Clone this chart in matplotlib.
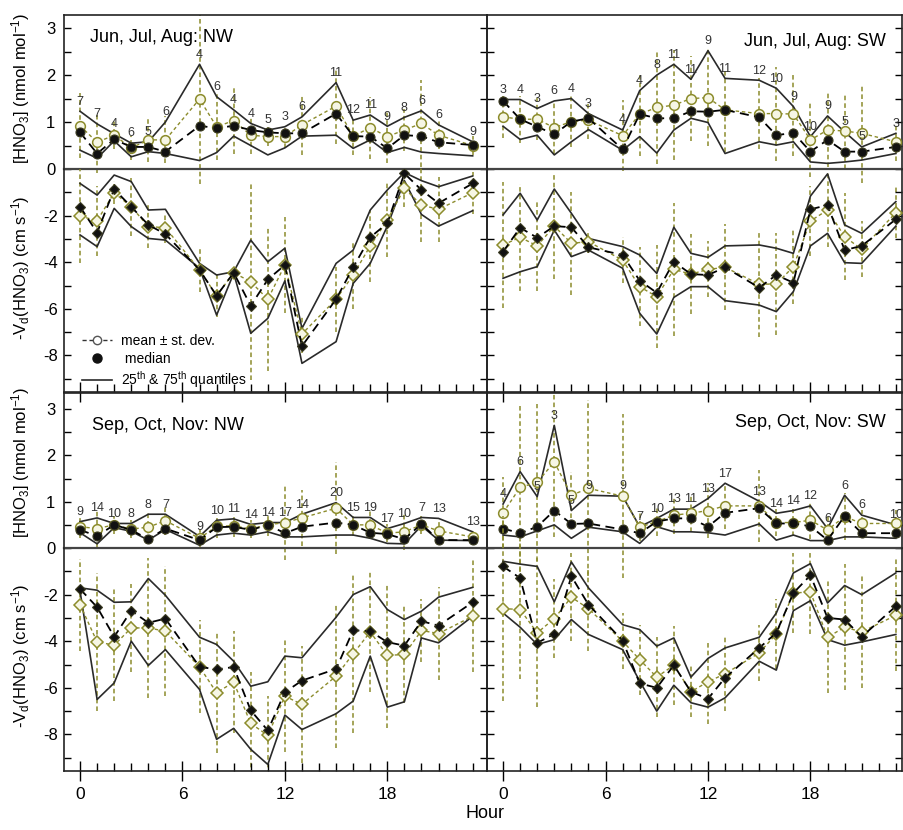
import numpy as np
import matplotlib
matplotlib.use('Agg')
import matplotlib.pyplot as plt
from matplotlib.lines import Line2D
from matplotlib.transforms import Bbox, TransformedBbox

plt.rcParams['font.family'] = ['Liberation Sans', 'DejaVu Sans']
plt.rcParams['mathtext.fontset'] = 'custom'
plt.rcParams['mathtext.rm'] = 'Liberation Sans'
plt.rcParams['mathtext.it'] = 'Liberation Sans:italic'
plt.rcParams['axes.unicode_minus'] = False

# hours with data (6, 14 and 22 missing)
hours = [0, 1, 2, 3, 4, 5, 7, 8, 9, 10, 11, 12, 13, 15, 16, 17, 18, 19, 20, 21, 23]

# Jun, Jul, Aug: NW
jja_nw_n = [7, 7, 4, 6, 5, 6, 4, 6, 4, 4, 5, 3, 6, 11, 12, 11, 9, 8, 6, 6, 9]
jja_nw_c_mean = [0.92, 0.57, 0.72, 0.45, 0.62, 0.62, 1.49, 0.90, 1.03, 0.72, 0.69, 0.69, 0.94, 1.34, 0.70, 0.88, 0.69, 0.83, 0.97, 0.72, 0.50]
jja_nw_c_sd = [0.69, 0.65, 0.30, 0.25, 0.48, 0.50, 1.80, 0.70, 0.70, 0.40, 0.20, 0.25, 0.65, 0.80, 0.40, 0.66, 0.57, 0.45, 0.92, 0.30, 0.20]
jja_nw_c_med = [0.78, 0.33, 0.63, 0.47, 0.47, 0.37, 0.92, 0.87, 0.92, 0.83, 0.78, 0.76, 0.76, 1.18, 0.70, 0.69, 0.44, 0.72, 0.70, 0.57, 0.51]
jja_nw_c_q75 = [1.23, 0.96, 0.75, 0.55, 0.58, 1.00, 2.23, 1.54, 1.26, 0.97, 0.83, 0.90, 1.11, 1.84, 1.04, 1.15, 0.91, 1.10, 1.24, 0.94, 0.58]
jja_nw_c_q25 = [0.40, 0.23, 0.60, 0.26, 0.37, 0.33, 0.18, 0.35, 0.70, 0.50, 0.30, 0.45, 0.70, 0.72, 0.44, 0.62, 0.35, 0.46, 0.36, 0.33, 0.28]
jja_nw_v_mean = [-2.02, -2.22, -1.02, -1.62, -2.47, -2.52, -4.33, -5.44, -4.45, -4.84, -5.59, -4.12, -7.08, -5.59, -4.55, -3.30, -2.19, -0.83, -1.55, -1.73, -1.02]
jja_nw_v_sd = [2.0, 1.5, 0.5, 1.25, 0.93, 0.65, 0.93, 0.93, 0.1, 4.2, 3.1, 2.05, 0.8, 1.4, 1.45, 1.55, 1.6, 0.8, 1.6, 1.4, 0.9]
jja_nw_v_med = [-1.62, -2.73, -0.87, -1.62, -2.40, -2.79, -4.33, -5.44, -4.45, -5.87, -4.74, -4.12, -7.60, -5.59, -4.22, -2.93, -2.33, -0.19, -0.90, -1.47, -0.62]
jja_nw_v_qa = [-0.62, -1.12, -0.26, -0.54, -1.76, -1.73, -4.05, -4.55, -4.41, -3.05, -3.98, -3.40, -6.84, -4.05, -3.48, -1.76, -0.90, -0.15, -0.50, -0.76, -0.30]
jja_nw_v_qb = [-2.83, -3.33, -1.69, -2.47, -2.98, -3.05, -4.26, -6.27, -4.48, -7.05, -6.41, -4.80, -8.34, -7.41, -4.91, -4.05, -2.45, -0.50, -1.95, -2.45, -1.79]

# Jun, Jul, Aug: SW
jja_sw_n = [3, 4, 3, 6, 4, 3, 4, 4, 8, 11, 11, 9, 11, 12, 10, 9, 10, 9, 5, 5, 3]
jja_sw_c_mean = [1.11, 1.06, 1.06, 0.88, 1.01, 1.04, 0.71, 1.17, 1.31, 1.36, 1.50, 1.52, 1.26, 1.18, 1.18, 1.17, 0.62, 0.83, 0.81, 0.76, 0.58]
jja_sw_c_sd = [0.45, 0.50, 0.45, 0.55, 0.55, 0.40, 0.76, 0.90, 1.20, 1.17, 0.90, 1.03, 0.90, 0.75, 1.00, 0.90, 0.80, 0.78, 0.80, 1.06, 0.40]
jja_sw_c_med = [1.45, 1.06, 0.90, 0.74, 1.01, 1.08, 0.42, 1.17, 1.08, 1.08, 1.23, 1.22, 1.26, 1.10, 0.72, 0.77, 0.37, 0.62, 0.37, 0.37, 0.47]
jja_sw_c_q75 = [1.48, 1.48, 1.29, 1.45, 1.50, 1.18, 0.83, 1.67, 2.00, 2.23, 1.91, 2.52, 1.93, 1.89, 1.72, 1.33, 0.69, 1.13, 0.79, 0.47, 0.76]
jja_sw_c_q25 = [0.91, 0.63, 0.72, 0.30, 0.58, 0.84, 0.40, 0.69, 0.34, 0.83, 1.08, 0.99, 0.33, 0.58, 0.51, 0.58, 0.15, 0.12, 0.15, 0.19, 0.33]
jja_sw_v_mean = [-3.26, -2.93, -3.30, -2.45, -3.19, -3.12, -3.91, -5.05, -5.48, -4.31, -4.51, -4.31, -4.22, -4.94, -4.94, -4.19, -2.23, -1.76, -2.90, -3.45, -1.87]
jja_sw_v_sd = [2.7, 2.3, 1.95, 2.25, 2.2, 0.5, 1.0, 1.7, 2.2, 2.85, 1.7, 1.2, 1.85, 2.25, 2.2, 1.6, 1.5, 1.6, 1.85, 1.2, 1.1]
jja_sw_v_med = [-3.55, -2.52, -2.95, -2.45, -2.50, -3.36, -3.69, -4.79, -5.31, -3.98, -4.51, -4.55, -4.22, -5.09, -4.55, -4.88, -1.73, -1.55, -3.48, -3.30, -2.16]
jja_sw_v_qa = [-1.97, -1.04, -2.19, -0.86, -1.90, -2.98, -3.33, -3.69, -4.48, -2.50, -3.62, -3.79, -3.30, -3.26, -3.40, -3.62, -1.16, -0.21, -2.40, -2.76, -1.40]
jja_sw_v_qb = [-4.69, -4.41, -4.19, -2.62, -3.76, -3.48, -4.26, -6.19, -7.08, -5.51, -5.05, -5.05, -5.65, -5.84, -6.12, -5.26, -3.30, -2.76, -4.02, -4.05, -2.45]

# Sep, Oct, Nov: NW
son_nw_n = [9, 14, 10, 8, 8, 7, 9, 10, 11, 14, 14, 17, 14, 20, 15, 19, 17, 10, 7, 13, 13]
son_nw_c_mean = [0.46, 0.42, 0.50, 0.41, 0.45, 0.59, 0.21, 0.47, 0.48, 0.41, 0.50, 0.55, 0.65, 0.86, 0.50, 0.50, 0.32, 0.35, 0.50, 0.37, 0.24]
son_nw_c_sd = [0.25, 0.40, 0.20, 0.20, 0.30, 0.30, 0.20, 0.25, 0.25, 0.20, 0.25, 0.80, 0.60, 1.00, 0.25, 0.30, 0.20, 0.40, 0.20, 0.25, 0.15]
son_nw_c_med = [0.39, 0.26, 0.50, 0.39, 0.19, 0.42, 0.17, 0.45, 0.46, 0.39, 0.50, 0.32, 0.46, 0.55, 0.50, 0.33, 0.30, 0.19, 0.52, 0.17, 0.17]
son_nw_c_q75 = [0.57, 0.65, 0.53, 0.53, 0.73, 0.73, 0.25, 0.60, 0.63, 0.51, 0.55, 0.55, 0.73, 0.98, 0.66, 0.66, 0.42, 0.53, 0.66, 0.64, 0.35]
son_nw_c_q25 = [0.33, 0.09, 0.44, 0.36, 0.17, 0.40, 0.06, 0.28, 0.32, 0.28, 0.35, 0.24, 0.24, 0.28, 0.28, 0.21, 0.10, 0.09, 0.48, 0.17, 0.16]
son_nw_v_mean = [-2.43, -4.03, -4.17, -3.43, -3.43, -3.57, -5.10, -6.21, -5.76, -7.53, -8.04, -6.36, -6.71, -5.50, -4.54, -3.60, -4.61, -4.57, -3.54, -3.67, -2.93]
son_nw_v_sd = [1.97, 2.96, 2.4, 1.9, 3.0, 2.8, 2.0, 2.6, 2.2, 2.2, 1.7, 2.4, 2.5, 3.1, 3.4, 2.6, 3.1, 2.1, 1.35, 2.0, 2.4]
son_nw_v_med = [-1.76, -2.54, -3.81, -2.69, -3.21, -3.03, -5.10, -5.21, -5.11, -6.97, -7.83, -6.19, -5.69, -5.19, -3.53, -3.57, -4.04, -4.19, -3.14, -3.33, -2.33]
son_nw_v_qa = [-1.71, -1.81, -2.33, -2.31, -1.31, -2.03, -3.83, -4.14, -4.86, -5.93, -5.74, -4.64, -4.71, -2.97, -2.00, -1.66, -2.64, -3.07, -2.71, -2.11, -1.69]
son_nw_v_qb = [-1.85, -6.50, -5.79, -4.00, -5.04, -4.36, -6.07, -8.21, -7.74, -8.64, -9.29, -7.17, -7.79, -7.11, -6.57, -4.64, -6.83, -6.60, -3.86, -4.07, -2.93]

# Sep, Oct, Nov: SW
son_sw_n = [4, 6, 5, 3, 5, 9, 9, 7, 10, 13, 11, 13, 17, 13, 14, 14, 12, 6, 6, 6, 10]
son_sw_c_mean = [0.76, 1.31, 1.42, 1.86, 1.14, 1.29, 1.12, 0.45, 0.57, 0.71, 0.75, 0.81, 0.91, 0.91, 0.55, 0.55, 0.60, 0.39, 0.68, 0.53, 0.53]
son_sw_c_sd = [0.77, 1.80, 1.70, 1.62, 0.50, 1.90, 1.77, 0.30, 0.30, 0.40, 0.40, 0.60, 0.50, 0.77, 0.30, 0.30, 0.40, 0.30, 0.50, 0.30, 0.30]
son_sw_c_med = [0.42, 0.32, 0.46, 0.81, 0.52, 0.53, 0.40, 0.32, 0.57, 0.64, 0.64, 0.46, 0.76, 0.86, 0.53, 0.53, 0.47, 0.17, 0.69, 0.32, 0.32]
son_sw_c_q75 = [0.95, 1.65, 1.11, 2.65, 0.81, 1.14, 1.12, 0.46, 0.64, 0.84, 0.84, 1.07, 1.40, 1.01, 0.75, 0.81, 0.91, 0.42, 1.14, 0.71, 0.50]
son_sw_c_q25 = [0.28, 0.24, 0.37, 0.50, 0.21, 0.45, 0.35, 0.10, 0.46, 0.35, 0.35, 0.33, 0.28, 0.52, 0.17, 0.28, 0.16, 0.16, 0.24, 0.24, 0.21]
son_sw_v_mean = [-2.60, -2.64, -3.64, -3.03, -2.11, -2.60, -4.00, -4.79, -5.54, -5.03, -6.17, -5.74, -5.40, -4.50, -3.69, -1.93, -1.89, -3.83, -3.40, -3.60, -2.89]
son_sw_v_sd = [3.97, 3.0, 3.2, 1.7, 1.9, 1.8, 1.2, 1.5, 1.7, 1.7, 1.1, 1.8, 1.6, 1.2, 1.5, 1.7, 1.8, 2.4, 2.7, 2.4, 2.4]
son_sw_v_med = [-0.79, -1.29, -4.07, -3.69, -1.21, -2.43, -3.97, -5.81, -6.00, -5.03, -6.17, -6.47, -5.57, -4.29, -3.64, -1.93, -1.17, -3.00, -3.07, -3.81, -2.50]
son_sw_v_qa = [-0.57, -0.69, -0.79, -2.31, -0.60, -1.71, -3.29, -3.50, -4.21, -3.86, -5.54, -4.74, -4.29, -3.83, -2.79, -1.07, -0.67, -2.36, -1.61, -2.00, -1.07]
son_sw_v_qb = [-2.79, -3.40, -4.14, -3.93, -3.07, -3.71, -4.36, -5.71, -7.00, -5.89, -6.64, -6.83, -6.43, -4.86, -5.24, -2.69, -2.26, -3.93, -4.17, -4.03, -3.71]

olive = '#8c8c2c'
light = '#f6f6e4'
dark = '#2a2a2a'

W, H = 904, 830
fig = plt.figure(figsize=(W / 100, H / 100), dpi=100)


def rect(x0, y0, x1, y1):
    return [x0 / W, 1 - y1 / H, (x1 - x0) / W, (y1 - y0) / H]


def clipbox(x0, y0, x1, y1):
    return TransformedBbox(Bbox([[x0 / W, 1 - y1 / H], [x1 / W, 1 - y0 / H]]), fig.transFigure)


def style(ax, frame_lw=1.2):
    ax.set_facecolor('none')
    for s in ax.spines.values():
        s.set_linewidth(frame_lw)
        s.set_color('#222222')
    ax.tick_params(axis='y', direction='in', left=True, right=True, length=5, width=1, labelsize=12, pad=9.5)


def draw(ax, clip, mean, sd, med, qa, qb, mk, ms_mean, ms_med, n=None):
    h = np.array(hours)
    mean = np.array(mean)
    sd = np.array(sd)
    lc = ax.vlines(h, mean - sd, mean + sd, colors=olive, linestyles=(0, (3, 2)), lw=1.1, zorder=1)
    lc.set_clip_box(clip)
    ax.plot(h, qa, color=dark, lw=1.2, zorder=2)
    ax.plot(h, qb, color=dark, lw=1.2, zorder=2)
    ax.plot(h, mean, color=olive, lw=1.0, dashes=(2.5, 2), marker=mk, ms=ms_mean,
            mfc=light, mec=olive, mew=1.1, zorder=3)
    ax.plot(h, med, color='black', lw=1.3, dashes=(5, 3), marker=mk, ms=ms_med,
            mfc='#111111', mec='#3a3a20', mew=0.8, zorder=4)
    if n is not None:
        for hi, ni, qi in zip(h, n, qa):
            ax.annotate(str(ni), (hi, qi), xytext=(0, 7), textcoords='offset points',
                        ha='center', va='center', fontsize=9, color='#333333', zorder=5)


panels = [
    # (x0, x1, row top, zero line, row bottom, xmax, hno3 top, title, title pos, left column, bottom row, data)
    (64, 487, 15, 169, 392, 23.84, 3.28, 'Jun, Jul, Aug: NW', (0.061, 0.857, 'left'), True, False,
     (jja_nw_n, jja_nw_c_mean, jja_nw_c_sd, jja_nw_c_med, jja_nw_c_q75, jja_nw_c_q25,
      jja_nw_v_mean, jja_nw_v_sd, jja_nw_v_med, jja_nw_v_qa, jja_nw_v_qb)),
    (487, 902, 15, 169, 392, 23.36, 3.28, 'Jun, Jul, Aug: SW', (0.962, 0.83, 'right'), False, False,
     (jja_sw_n, jja_sw_c_mean, jja_sw_c_sd, jja_sw_c_med, jja_sw_c_q75, jja_sw_c_q25,
      jja_sw_v_mean, jja_sw_v_sd, jja_sw_v_med, jja_sw_v_qa, jja_sw_v_qb)),
    (64, 487, 393, 548, 771, 23.84, 3.35, 'Sep, Oct, Nov: NW', (0.066, 0.79, 'left'), True, True,
     (son_nw_n, son_nw_c_mean, son_nw_c_sd, son_nw_c_med, son_nw_c_q75, son_nw_c_q25,
      son_nw_v_mean, son_nw_v_sd, son_nw_v_med, son_nw_v_qa, son_nw_v_qb)),
    (487, 902, 393, 548, 771, 23.36, 3.35, 'Sep, Oct, Nov: SW', (0.962, 0.81, 'right'), False, True,
     (son_sw_n, son_sw_c_mean, son_sw_c_sd, son_sw_c_med, son_sw_c_q75, son_sw_c_q25,
      son_sw_v_mean, son_sw_v_sd, son_sw_v_med, son_sw_v_qa, son_sw_v_qb)),
]

vd_axes = []
for (x0, x1, yt, y0, yb, xmax, ctop, title, tpos, left, bottom, d) in panels:
    n, cm, cs, cmed, cqa, cqb, vm, vs, vmed, vqa, vqb = d
    clip = clipbox(x0, yt, x1, yb)

    ax1 = fig.add_axes(rect(x0, yt, x1, y0))
    ax2 = fig.add_axes(rect(x0, y0, x1, yb))
    style(ax1)
    style(ax2)
    ax1.spines['bottom'].set_linewidth(1.6)
    ax1.spines['bottom'].set_color('#444444')
    ax2.spines['top'].set_visible(False)

    draw(ax1, clip, cm, cs, cmed, cqa, cqb, 'o', 7, 6.5, n)
    draw(ax2, clip, vm, vs, vmed, vqa, vqb, 'D', 6, 5)

    for ax in (ax1, ax2):
        ax.set_xlim(-0.94, xmax)
    ax1.set_ylim(0, ctop)
    ax2.set_ylim(-9.57, 0)

    ax1.set_xticks([])
    ax1.set_yticks(np.arange(0, 3.01, 0.5))
    ax2.set_yticks(np.arange(-9, 0, 1))
    if left:
        ax1.set_yticklabels(['0', '', '1', '', '2', '', '3'], ha='center')
        ax2.set_yticklabels(['', '-8', '', '-6', '', '-4', '', '-2', ''], ha='center')
    else:
        ax1.tick_params(axis='y', labelleft=False)
        ax2.tick_params(axis='y', labelleft=False)

    ax2.set_xticks([0, 6, 12, 18])
    ax2.set_xticks([h for h in range(24) if h % 6 != 0], minor=True)
    ax2.tick_params(axis='x', which='major', direction='inout', length=14.4, width=1,
                    labelsize=12.5, pad=4.3, labelbottom=bottom)
    ax2.tick_params(axis='x', which='minor', direction='in', length=5.8, width=1)

    ax1.text(tpos[0], tpos[1], title, transform=ax1.transAxes, ha=tpos[2], va='center', fontsize=13)
    vd_axes.append(ax2)

# legend in the first deposition panel
handles = [
    Line2D([], [], color='#333333', lw=1.0, dashes=(3, 2), marker='o', ms=6, mfc='white', mec='#555555'),
    Line2D([], [], color='none', marker='o', ms=6.5, mfc='#111111', mec='#111111'),
    Line2D([], [], color=dark, lw=1.2),
]
vd_axes[0].legend(handles, ['mean \u00b1 st. dev.', ' median',
                            '25$\\mathregular{^{th}}$ & 75$\\mathregular{^{th}}$ quantiles'],
                  loc='upper left', bbox_to_anchor=(0.026, 0.29), frameon=False, fontsize=10,
                  borderpad=0, handlelength=2.2, handletextpad=0.6, labelspacing=0.25)

ylab_c = '[HNO$\\mathregular{_3}$] (nmol mol$\\mathregular{^{-1}}$)'
ylab_v = '-V$\\mathregular{_d}$(HNO$\\mathregular{_3}$) (cm s$\\mathregular{^{-1}}$)'
for yc, lab in [(88, ylab_c), (268, ylab_v), (462, ylab_c), (656, ylab_v)]:
    fig.text(21 / W, 1 - yc / H, lab, rotation=90, ha='center', va='center', fontsize=12)

fig.text(485 / W, 1 - 813 / H, 'Hour', ha='center', va='center', fontsize=13)

fig.savefig('out.png', dpi=100, facecolor='white')
